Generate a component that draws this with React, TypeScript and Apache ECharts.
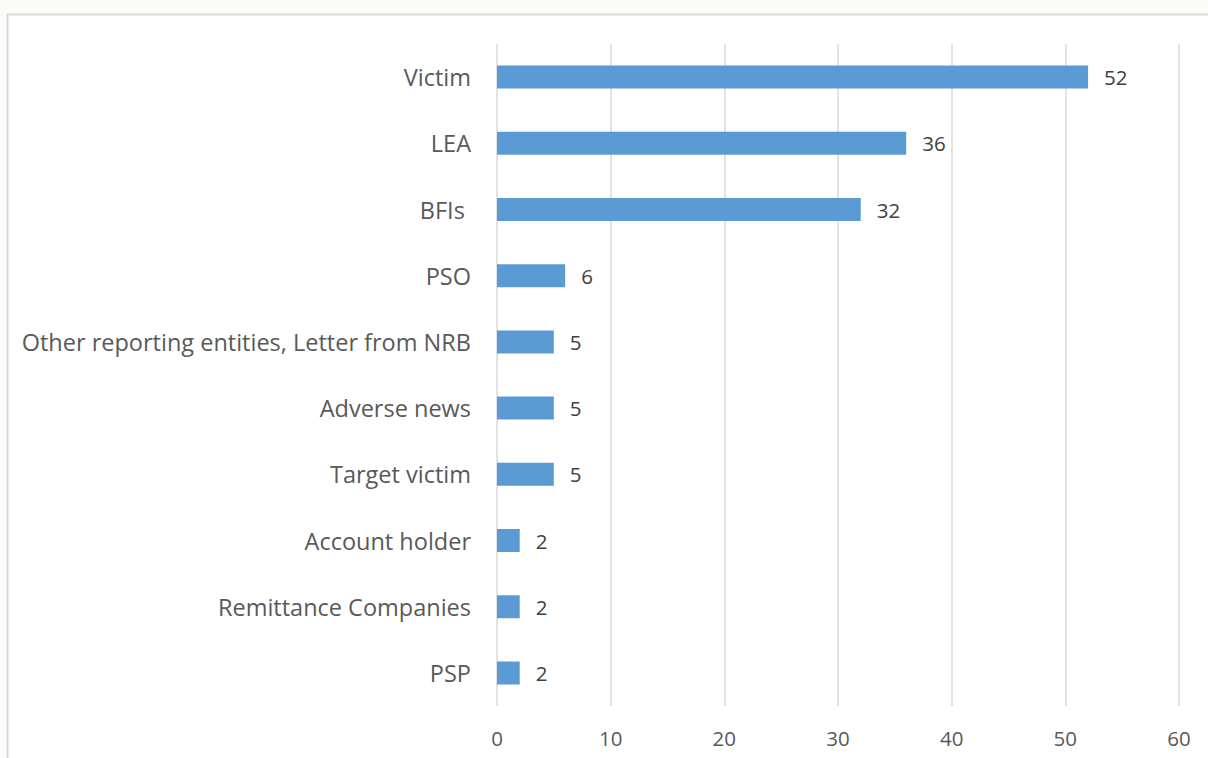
import React, { useEffect, useRef } from "react";
import * as echarts from "echarts";

const categories = [
  "Victim",
  "LEA",
  "BFIs ",
  "PSO",
  "Other reporting entities, Letter from NRB",
  "Adverse news",
  "Target victim",
  "Account holder",
  "Remittance Companies",
  "PSP",
];
const values = [52, 36, 32, 6, 5, 5, 5, 2, 2, 2];
const xTicks = { min: 0, max: 60, interval: 10 };

export default function App() {
  const ref = useRef<HTMLDivElement>(null);
  useEffect(() => {
    document.body.style.margin = "0";
    const chart = echarts.init(ref.current!, null, { renderer: "svg" });
    chart.setOption({
      animation: false,
      backgroundColor: "#fafcf7",
      graphic: [
        {
          type: "rect",
          shape: { x: 7.5, y: 14.5, width: 1300, height: 800 },
          style: { fill: "#ffffff", stroke: "#d9d9d9", lineWidth: 2 },
          z: -10,
        },
      ],
      grid: { left: 497, right: 29, top: 44, bottom: 52, containLabel: false },
      xAxis: {
        type: "value",
        min: xTicks.min,
        max: xTicks.max,
        interval: xTicks.interval,
        axisLine: { show: false },
        axisTick: { show: false },
        splitLine: { show: true, lineStyle: { color: "#d9d9d9", width: 1.5 } },
        axisLabel: {
          color: "#595959",
          fontSize: 20.5,
          fontFamily: "Open Sans",
          margin: 21,
        },
      },
      yAxis: {
        type: "category",
        data: categories,
        inverse: true,
        axisLine: { show: false },
        axisTick: { show: false },
        axisLabel: {
          color: "#595959",
          fontSize: 23.5,
          fontFamily: "Open Sans",
          margin: 26,
        },
      },
      series: [
        {
          type: "bar",
          data: values,
          barWidth: 23,
          itemStyle: { color: "#5b9bd5" },
          label: {
            show: true,
            position: "right",
            distance: 16,
            color: "#404040",
            fontSize: 20.5,
            fontFamily: "Open Sans",
          },
        },
      ],
    });
    return () => chart.dispose();
  }, []);
  return <div ref={ref} style={{ width: 1208, height: 758 }} />;
}
